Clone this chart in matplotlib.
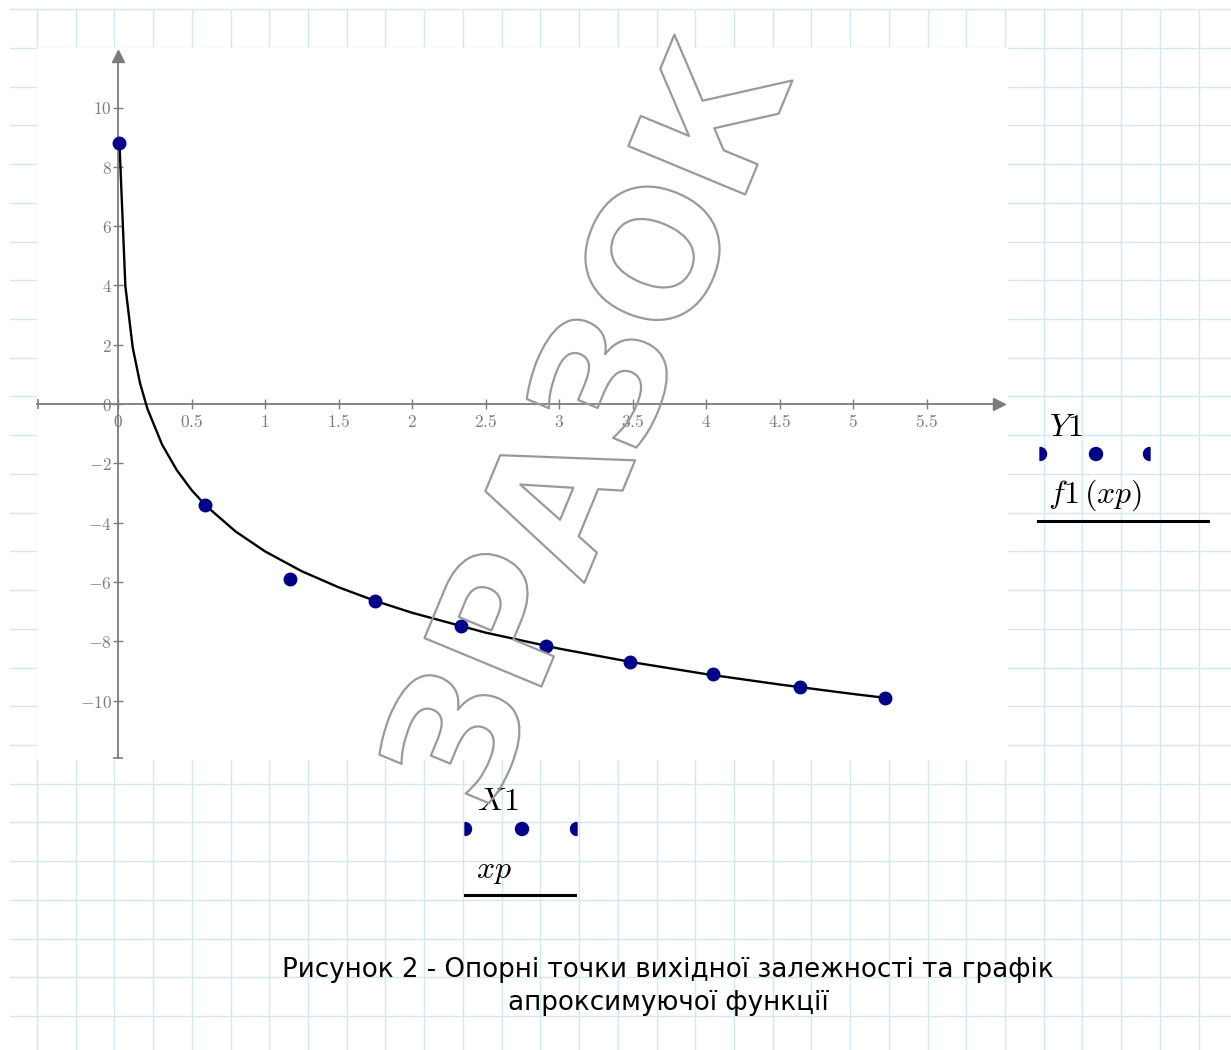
import matplotlib
matplotlib.use("Agg")
import matplotlib.pyplot as plt
import matplotlib.patheffects as pe
import numpy as np
from matplotlib.patches import Wedge
from matplotlib.ticker import FuncFormatter

plt.rcParams["mathtext.fontset"] = "cm"

# Reference points X1, Y1
X1 = [0.01, 0.59, 1.17, 1.75, 2.33, 2.91, 3.48, 4.05, 4.64, 5.22]
Y1 = [8.8, -3.4, -5.9, -6.65, -7.5, -8.15, -8.7, -9.1, -9.55, -9.9]

# Approximating function f1(xp), sampled by eye along the drawn curve
XP = [0.01, 0.05, 0.1, 0.15, 0.2, 0.3, 0.4, 0.5, 0.6, 0.8, 1.0, 1.25,
      1.5, 1.75, 2.0, 2.5, 3.0, 3.5, 4.0, 4.5, 5.0, 5.22]
F1 = [8.79, 3.98, 1.91, 0.70, -0.16, -1.37, -2.23, -2.90, -3.44, -4.30,
      -4.97, -5.64, -6.18, -6.64, -7.04, -7.71, -8.25, -8.71, -9.11,
      -9.46, -9.78, -9.91]

X_TICKS = [0, 0.5, 1, 1.5, 2, 2.5, 3, 3.5, 4, 4.5, 5, 5.5]
Y_TICKS = [-10, -8, -6, -4, -2, 0, 2, 4, 6, 8, 10]

CAPTION = ["Рисунок 2 - Опорні точки вихідної залежності та графік",
           "апроксимуючої функції"]
WATERMARK = "ЗРАЗОК"

W, H = 1231, 1050
GRID = "#d4e7f5"
AXIS = "#7c7c7c"
DOT = "#000088"

fig = plt.figure(figsize=(W / 100, H / 100), dpi=100)

# squared paper background, pixel coordinates
bg = fig.add_axes([0, 0, 1, 1])
bg.set_xlim(0, W)
bg.set_ylim(H, 0)
bg.axis("off")
step = 38.72
for gx in np.arange(37, W, step):
    bg.plot([gx, gx], [10, H], color=GRID, lw=1, zorder=0)
for gy in np.arange(48 - step, H, step):
    bg.plot([10, W], [gy, gy], color=GRID, lw=1, zorder=0)


# Mathcad style labels of the traces
def trace_marker(y, x_left, x_mid, x_right):
    r = 6.5
    bg.add_patch(Wedge((x_left, y), r, -90, 90, color=DOT, zorder=3))
    bg.add_patch(plt.Circle((x_mid, y), r, color=DOT, zorder=3))
    bg.add_patch(Wedge((x_right, y), r, 90, 270, color=DOT, zorder=3))


bg.text(1049, 428, r"$Y1$", fontsize=23, ha="left", va="center", zorder=3)
trace_marker(454, 1040, 1096, 1150)
bg.text(1048, 495, r"$f1\,(xp)$", fontsize=23, ha="left", va="center", zorder=3)
bg.plot([1038, 1208], [521, 521], color="black", lw=2.2, zorder=3)

bg.text(477, 802, r"$X1$", fontsize=23, ha="left", va="center", zorder=3)
trace_marker(829, 465, 522, 577)
bg.text(476, 870, r"$xp$", fontsize=23, ha="left", va="center", zorder=3)
bg.plot([465, 575], [895, 895], color="black", lw=2.2, zorder=3)

bg.text(668, 970, CAPTION[0], fontsize=18.8, family="DejaVu Sans", ha="center", va="center")
bg.text(668, 1003, CAPTION[1], fontsize=18.8, family="DejaVu Sans", ha="center", va="center")

# plot area
left, right, top, bottom = 37, 1008, 48, 760
x0_px, y0_px, sx, sy = 118, 404, 147.0, 29.65
ax = fig.add_axes([left / W, (H - bottom) / H, (right - left) / W, (bottom - top) / H])
ax.set_facecolor("white")
ax.set_xlim((left - x0_px) / sx, (right - x0_px) / sx)
ax.set_ylim((y0_px - bottom) / sy, (y0_px - top) / sy)

for side in ["top", "right"]:
    ax.spines[side].set_visible(False)
ax.spines["left"].set_position(("data", 0))
ax.spines["bottom"].set_position(("data", 0))
for side in ["left", "bottom"]:
    ax.spines[side].set_color(AXIS)
    ax.spines[side].set_linewidth(1.3)
xmin = (left - x0_px) / sx
ymin = (y0_px - 758) / sy
ax.spines["bottom"].set_bounds(xmin, 5.99)
ax.spines["left"].set_bounds(ymin, 11.75)
ax.plot(5.99, 0, ">", ms=8, color=AXIS, clip_on=False, zorder=4)
ax.plot(0, 11.75, "^", ms=8, color=AXIS, clip_on=False, zorder=4)
ax.plot(xmin + 0.005, 0, "|", ms=7, mew=1.2, color=AXIS, clip_on=False)
ax.plot(0, ymin, "_", ms=7, mew=1.2, color=AXIS, clip_on=False)

fmt = FuncFormatter(lambda v, pos: "$%g$" % v)
ax.set_xticks(X_TICKS)
ax.set_yticks(Y_TICKS)
ax.xaxis.set_major_formatter(fmt)
ax.yaxis.set_major_formatter(fmt)
ax.tick_params(axis="both", direction="inout", length=7, width=1,
               color=AXIS, labelcolor=AXIS, labelsize=12.5)
ax.tick_params(axis="x", pad=3)
ax.tick_params(axis="y", pad=1)

ax.plot(XP, F1, color="black", lw=1.7, zorder=3)
ax.plot(X1, Y1, "o", color=DOT, ms=9, zorder=4, clip_on=False)

# watermark, outline only
fig.text(596 / W, 1 - 428 / H, WATERMARK, fontsize=125, fontweight="bold",
         rotation=67.5, rotation_mode="anchor", ha="center", va="center",
         color="none",
         path_effects=[pe.Stroke(linewidth=1.6, foreground="#9a9a9a")])

fig.savefig("out.png", dpi=100)
